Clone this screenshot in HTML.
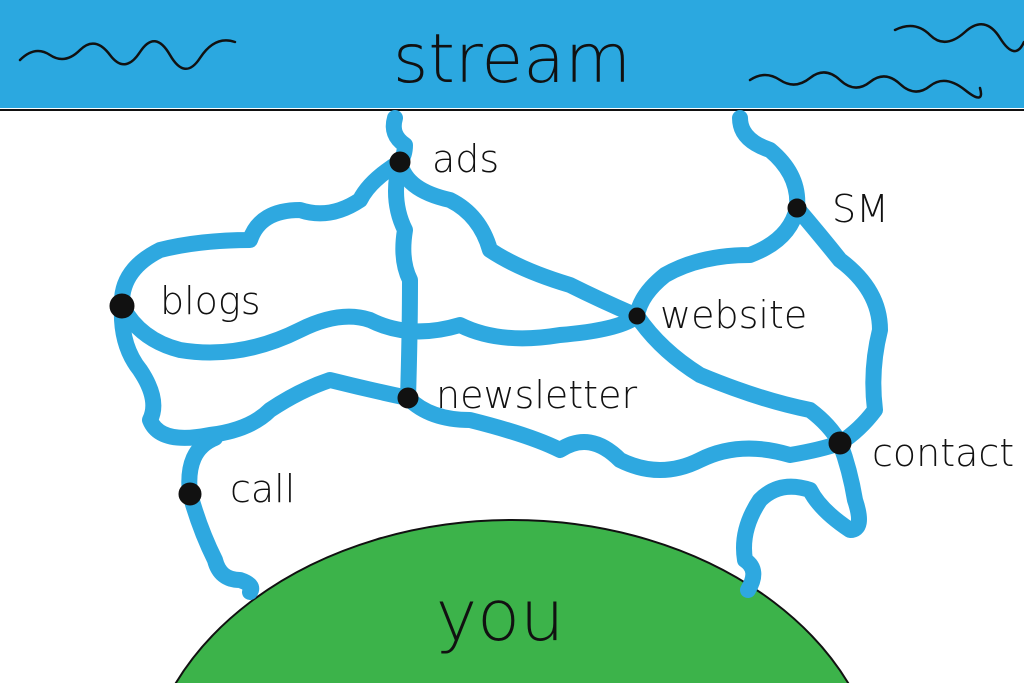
<!DOCTYPE html>
<html><head><style>
html,body{margin:0;padding:0;background:#fff;width:1024px;height:683px;overflow:hidden;}
svg{display:block}
text{font-family:"DejaVu Sans","Liberation Sans",sans-serif;fill:#111;}
</style></head><body>
<svg width="1024" height="683" viewBox="0 0 1024 683" xmlns="http://www.w3.org/2000/svg">
<rect x="0" y="0" width="1024" height="108" fill="#2ba8e0"/>
<line x1="0" y1="110" x2="1024" y2="110" stroke="#111" stroke-width="2"/>
<g fill="none" stroke="#111" stroke-width="2.5" stroke-linecap="round">
<path d="M20 60 Q35 45 50 55 T80 50 T110 55 T140 52 T170 55 T200 58 T235 42"/>
<path d="M895 30 Q915 20 930 35 T965 32 T1000 38 T1024 42"/>
<path d="M750 80 Q765 70 780 80 T810 78 T840 80 T870 82 T900 84 T930 86 T965 90 T980 88"/>
</g>
<text x="512" y="82" font-size="68" text-anchor="middle" font-weight="300">stream</text>
<ellipse cx="512" cy="800" rx="370" ry="280" fill="#3cb34a" stroke="#111" stroke-width="2"/>
<text x="500" y="640" font-size="70" text-anchor="middle" font-weight="300">you</text>
<g fill="none" stroke="#2ea8e0" stroke-width="16" stroke-linecap="round" stroke-linejoin="round">
<path d="M395 118 Q390 135 405 145 Q405 155 400 162"/>
<path d="M400 162 Q390 200 405 230 Q400 260 410 280 Q410 330 408 398"/>
<path d="M400 162 Q405 190 450 200 Q480 215 490 250 Q520 270 570 285 Q600 300 637 316"/>
<path d="M400 162 Q370 180 360 200 Q330 220 300 210 Q260 210 250 240 Q200 240 160 250 Q120 270 122 306"/>
<path d="M122 306 Q140 340 180 350 Q240 360 300 330 Q340 310 370 320 Q410 340 460 325 Q500 345 560 335 Q620 330 637 316"/>
<path d="M122 306 Q120 345 140 370 Q160 400 150 420 Q160 445 210 435 Q250 430 270 410 Q300 390 330 380 Q370 390 408 398"/>
<path d="M215 438 Q185 450 190 494 Q200 530 215 560 Q220 580 240 580 Q255 585 250 592"/>
<path d="M408 398 Q430 420 470 420 Q530 435 560 450 Q590 430 620 460 Q660 480 700 460 Q740 440 790 455 Q820 450 840 443"/>
<path d="M740 118 Q740 140 770 150 Q800 175 797 208"/>
<path d="M797 208 Q790 240 750 255 Q700 255 665 275 Q640 295 637 316"/>
<path d="M797 208 Q820 235 840 260 Q880 290 880 330 Q870 370 875 410 Q860 430 840 443"/>
<path d="M637 316 Q660 350 700 375 Q760 400 810 410 Q830 425 840 443"/>
<path d="M840 443 Q850 470 855 500 Q865 530 850 530 Q820 510 810 490 Q780 480 760 500 Q740 530 745 560 Q760 570 748 590"/>
</g>
<g fill="#111" stroke="#111">
<circle cx="400" cy="162" r="10"/>
<circle cx="797" cy="208" r="9"/>
<circle cx="122" cy="306" r="12"/>
<circle cx="637" cy="316" r="8"/>
<circle cx="408" cy="398" r="10"/>
<circle cx="840" cy="443" r="11"/>
<circle cx="190" cy="494" r="11"/>
</g>
<g font-size="38" font-weight="300">
<text x="432" y="172">ads</text>
<text x="832" y="222">SM</text>
<text x="160" y="314">blogs</text>
<text x="660" y="328">website</text>
<text x="436" y="408">newsletter</text>
<text x="872" y="466">contact</text>
<text x="230" y="502">call</text>
</g>
</svg>
</body></html>
